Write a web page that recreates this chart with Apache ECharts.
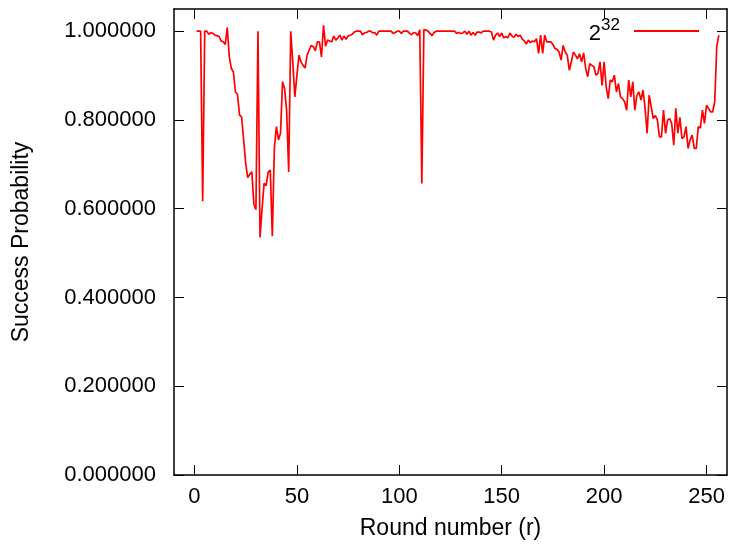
<!DOCTYPE html>
<html>
<head>
<meta charset="utf-8">
<script src="https://cdn.jsdelivr.net/npm/echarts@6/dist/echarts.min.js"></script>
<style>html,body{margin:0;padding:0;background:#fff}#c{width:732px;height:551px}</style>
</head>
<body>
<div id="c"></div>
<script>
var seriesName = '2^32';
var firstRound = 1;
var prob001to032 = [1.0,1.0,1.0,0.617,1.0,1.0,0.993,0.997,0.995,0.991,0.99,0.988,0.978,0.976,0.97,1.008,0.942,0.916,0.908,0.863,0.858,0.811,0.807,0.755,0.702,0.670,0.678,0.683,0.610,0.598,1.0,0.535];
var prob033to064 = [0.60,0.657,0.652,0.683,0.687,0.538,0.736,0.785,0.755,0.77,0.886,0.871,0.82,0.683,1.0,0.93,0.852,0.90,0.946,0.931,0.923,0.917,0.946,0.957,0.968,0.965,0.956,0.976,0.976,0.942,1.013,0.966];
var prob065to096 = [0.98,0.978,0.976,0.989,0.98,0.985,0.991,0.98,0.989,0.982,0.989,0.991,0.993,0.998,1.0,1.0,1.0,0.992,0.996,0.997,1.0,1.0,0.996,0.997,0.991,1.0,1.0,1.0,1.0,1.0,1.0,1.0];
var prob097to128 = [0.995,0.997,1.0,1.0,0.995,1.0,1.0,1.0,0.995,0.992,0.997,0.996,0.99,1.003,0.657,1.003,1.003,1.0,0.995,0.99,0.997,1.0,1.0,1.0,1.0,1.0,1.0,1.0,1.0,1.0,1.0,0.995];
var prob129to160 = [0.997,0.995,0.996,1.0,0.993,1.0,0.991,0.997,0.991,0.998,0.998,0.996,1.0,1.0,1.0,1.0,0.998,0.98,0.991,0.996,0.988,0.996,0.985,0.988,0.985,0.996,0.989,0.986,0.993,0.988,0.991,0.982];
var prob161to192 = [0.978,0.971,0.98,0.974,0.978,0.976,0.983,0.95,0.991,0.95,0.991,0.976,0.976,0.976,0.97,0.961,0.959,0.953,0.935,0.968,0.953,0.946,0.912,0.931,0.953,0.946,0.938,0.949,0.931,0.951,0.916,0.897];
var prob193to224 = [0.927,0.923,0.92,0.901,0.905,0.931,0.878,0.931,0.875,0.848,0.89,0.886,0.901,0.863,0.882,0.852,0.848,0.841,0.822,0.89,0.852,0.886,0.822,0.856,0.863,0.845,0.867,0.826,0.77,0.856,0.83,0.803];
var prob225to256 = [0.81,0.8,0.762,0.762,0.822,0.77,0.8,0.803,0.792,0.743,0.826,0.77,0.806,0.758,0.762,0.785,0.736,0.755,0.766,0.736,0.736,0.785,0.782,0.822,0.792,0.833,0.826,0.818,0.818,0.841,0.965,0.991];
var xTicks = [0, 50, 100, 150, 200, 250];
var yTicks = [0, 0.2, 0.4, 0.6, 0.8, 1.0];

var probs = [].concat(prob001to032, prob033to064, prob065to096, prob097to128, prob129to160, prob161to192, prob193to224, prob225to256);
var points = probs.map(function (v, i) { return [firstRound + i, v]; });

var FONT = 'Liberation Sans, Arial, sans-serif';
var FS = 22;
var FSN = 23;
var axisLine = { show: true, onZero: false, lineStyle: { color: '#000', width: 1.5 } };
var chart = echarts.init(document.getElementById('c'), null, { renderer: 'canvas' });
chart.setOption({
  animation: false,
  backgroundColor: '#fff',
  grid: { left: 174, right: 5, top: 9, bottom: 76, containLabel: false },
  legend: {
    show: true,
    right: 33, top: 17, padding: 0,
    align: 'right',
    itemWidth: 65, itemHeight: 2,
    icon: 'rect',
    data: [seriesName],
    formatter: function () { return '{b|2}{s|32}{g|}'; },
    textStyle: {
      color: '#000', fontFamily: FONT,
      rich: {
        b: { fontSize: 22, color: '#000', fontFamily: FONT, lineHeight: 28, verticalAlign: 'bottom' },
        s: { fontSize: 17, color: '#000', fontFamily: FONT, lineHeight: 28, verticalAlign: 'top' },
        g: { width: 9 }
      }
    }
  },
  xAxis: [{
    type: 'value', position: 'bottom', min: -10, max: 260,
    name: 'Round number (r)', nameLocation: 'middle', nameGap: 42,
    nameTextStyle: { fontSize: FSN, color: '#000', fontFamily: FONT },
    axisLine: axisLine,
    axisTick: { show: true, inside: true, length: 10, customValues: xTicks, lineStyle: { color: '#000', width: 1 } },
    axisLabel: { show: true, customValues: xTicks, margin: 11, fontSize: FS, color: '#000', fontFamily: FONT },
    splitLine: { show: false }
  }, {
    type: 'value', position: 'top', min: -10, max: 260,
    axisLine: axisLine,
    axisTick: { show: true, inside: true, length: 10, customValues: xTicks, lineStyle: { color: '#000', width: 1 } },
    axisLabel: { show: false },
    splitLine: { show: false }
  }],
  yAxis: [{
    type: 'value', position: 'left', min: 0, max: 1.05,
    name: 'Success Probability', nameLocation: 'middle', nameGap: 141, nameRotate: 90,
    nameTextStyle: { fontSize: FSN, color: '#000', fontFamily: FONT },
    axisLine: axisLine,
    axisTick: { show: true, inside: true, length: 10, customValues: yTicks, lineStyle: { color: '#000', width: 1 } },
    axisLabel: { show: true, customValues: yTicks, margin: 18, fontSize: FS, color: '#000', fontFamily: FONT,
      formatter: function (v) { return v.toFixed(6); } },
    splitLine: { show: false }
  }, {
    type: 'value', position: 'right', min: 0, max: 1.05,
    axisLine: axisLine,
    axisTick: { show: true, inside: true, length: 10, customValues: yTicks, lineStyle: { color: '#000', width: 1 } },
    axisLabel: { show: false },
    splitLine: { show: false }
  }],
  series: [{
    name: seriesName,
    type: 'line',
    xAxisIndex: 0, yAxisIndex: 0,
    data: points,
    showSymbol: false,
    symbol: 'none',
    color: '#ff0000',
    lineStyle: { color: '#ff0000', width: 1.7 }
  }]
});
</script>
</body>
</html>
